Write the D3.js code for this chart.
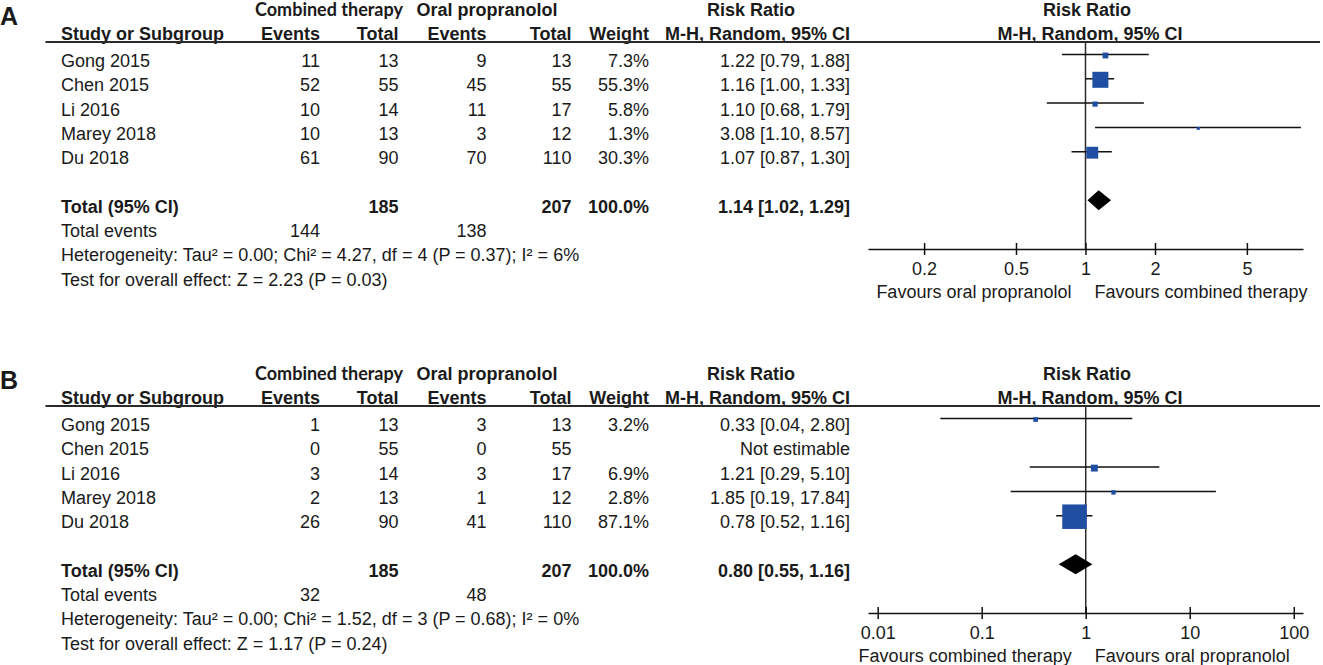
<!DOCTYPE html>
<html>
<head>
<meta charset="utf-8">
<script src="https://cdn.jsdelivr.net/npm/d3@7"></script>
<style>
  body { margin: 0; background: #fff; }
  text { font-family: "Liberation Sans", Arial, sans-serif; fill: #1a1a1a; }
</style>
</head>
<body>
<svg id="chart" width="1323" height="665"></svg>
<script>
"use strict";

// ---- data ----
const studies = ["Gong 2015", "Chen 2015", "Li 2016", "Marey 2018", "Du 2018"];
const combTotal = [13, 55, 14, 13, 90];
const oralTotal = [13, 55, 17, 12, 110];

// panel A: response
const combEventsA = [11, 52, 10, 10, 61];
const oralEventsA = [9, 45, 11, 3, 70];
const weightA = [7.3, 55.3, 5.8, 1.3, 30.3];
const rrA = [1.22, 1.16, 1.10, 3.08, 1.07];
const lowA = [0.79, 1.00, 0.68, 1.10, 0.87];
const highA = [1.88, 1.33, 1.79, 8.57, 1.30];
const pooledA = [1.14, 1.02, 1.29];
const totalEventsA = [144, 138];
const ticksA = [0.2, 0.5, 1, 2, 5];
const domainA = [0.1143, 8.75];
const favoursA = ["Favours oral propranolol", "Favours combined therapy"];
const hetA = "Heterogeneity: Tau² = 0.00; Chi² = 4.27, df = 4 (P = 0.37); I² = 6%";
const testA = "Test for overall effect: Z = 2.23 (P = 0.03)";

// panel B: adverse events
const combEventsB = [1, 0, 3, 2, 26];
const oralEventsB = [3, 0, 3, 1, 41];
const weightB = [3.2, null, 6.9, 2.8, 87.1];
const rrB = [0.33, null, 1.21, 1.85, 0.78];
const lowB = [0.04, null, 0.29, 0.19, 0.52];
const highB = [2.80, null, 5.10, 17.84, 1.16];
const pooledB = [0.80, 0.55, 1.16];
const totalEventsB = [32, 48];
const ticksB = [0.01, 0.1, 1, 10, 100];
const domainB = [0.00807, 122.7];
const favoursB = ["Favours combined therapy", "Favours oral propranolol"];
const hetB = "Heterogeneity: Tau² = 0.00; Chi² = 1.52, df = 3 (P = 0.68); I² = 0%";
const testB = "Test for overall effect: Z = 1.17 (P = 0.24)";

const totalN = [185, 207];

// ---- layout ----
const col = { name: 61, cEv: 320, cTot: 398.5, oEv: 486.5, oTot: 571.5, wt: 649, rr: 850 };
const rowY0 = 67, rowH = 24.3;
const plotLeft = 868, plotRight = 1303;
const lineTop = 42, axisY = 249;
const panelShift = 364;

const svg = d3.select("#chart");
svg.append("rect").attr("width", 1323).attr("height", 665).attr("fill", "#fff");

const fmt2 = d3.format(".2f");
const ciText = (r, l, h) => fmt2(r) + " [" + fmt2(l) + ", " + fmt2(h) + "]";

function drawPanel(letter, shift, p) {
    const g = svg.append("g").attr("transform", "translate(0," + shift + ")");
    const rowBase = (i) => rowY0 + rowH * i;

    g.append("text").attr("x", 0).attr("y", 25)
        .style("font-size", "25px").style("font-weight", "bold").text(letter);

    // header
    g.append("text").attr("x", 329).attr("y", 15.5).attr("text-anchor", "middle")
        .style("font-family", "Lato, 'Open Sans', sans-serif")
        .style("font-size", "18px").style("font-weight", "bold").text("Combined therapy");
    const head1 = [[557.5, "Oral propranolol", "end"], [751, "Risk Ratio", "middle"], [1087, "Risk Ratio", "middle"]];
    g.selectAll(".h1").data(head1).enter().append("text")
        .attr("x", d => d[0]).attr("y", 15.5).attr("text-anchor", d => d[2])
        .style("font-size", "18px").style("font-weight", "bold").text(d => d[1]);
    const head2 = [[col.name, "Study or Subgroup", "start"], [col.cEv, "Events", "end"], [col.cTot, "Total", "end"],
        [col.oEv, "Events", "end"], [col.oTot, "Total", "end"], [col.wt, "Weight", "end"],
        [col.rr, "M-H, Random, 95% CI", "end"], [1090, "M-H, Random, 95% CI", "middle"]];
    g.selectAll(".h2").data(head2).enter().append("text")
        .attr("x", d => d[0]).attr("y", 40).attr("text-anchor", d => d[2])
        .style("font-size", "18px").style("font-weight", "bold").text(d => d[1]);
    g.append("line").attr("x1", 45.5).attr("x2", 1320).attr("y1", lineTop).attr("y2", lineTop)
        .attr("stroke", "#2a2a2a").attr("stroke-width", 2);

    // study rows
    const rows = studies.map((s, i) => ({
        name: s, ce: p.ce[i], ct: combTotal[i], oe: p.oe[i], ot: oralTotal[i],
        w: p.w[i], rr: p.rr[i], lo: p.lo[i], hi: p.hi[i], idx: i
    }));
    const cells = [];
    rows.forEach(r => {
        const y = rowBase(r.idx);
        cells.push([col.name, y, r.name, "start"]);
        cells.push([col.cEv, y, r.ce, "end"]);
        cells.push([col.cTot, y, r.ct, "end"]);
        cells.push([col.oEv, y, r.oe, "end"]);
        cells.push([col.oTot, y, r.ot, "end"]);
        cells.push([col.wt, y, r.w == null ? "" : d3.format(".1f")(r.w) + "%", "end"]);
        cells.push([col.rr, y, r.rr == null ? "Not estimable" : ciText(r.rr, r.lo, r.hi), "end"]);
    });
    cells.push([col.name, rowBase(7), "Total events", "start"]);
    cells.push([col.cEv, rowBase(7), p.events[0], "end"]);
    cells.push([col.oEv, rowBase(7), p.events[1], "end"]);
    cells.push([col.name, rowBase(8), p.het, "start"]);
    cells.push([col.name, rowBase(9), p.test, "start"]);
    g.selectAll(".cell").data(cells).enter().append("text")
        .attr("x", d => d[0]).attr("y", d => d[1]).attr("text-anchor", d => d[3])
        .style("font-size", "18px").text(d => d[2]);

    const totals = [[col.name, "Total (95% CI)", "start"], [col.cTot, totalN[0], "end"], [col.oTot, totalN[1], "end"],
        [col.wt, "100.0%", "end"], [col.rr, ciText(p.pooled[0], p.pooled[1], p.pooled[2]), "end"]];
    g.selectAll(".tot").data(totals).enter().append("text")
        .attr("x", d => d[0]).attr("y", rowBase(6)).attr("text-anchor", d => d[2])
        .style("font-size", "18px").style("font-weight", "bold").text(d => d[1]);

    // forest plot
    const x = d3.scaleLog().domain(p.domain).range([plotLeft, plotRight]);
    const size = d3.scaleSqrt().domain([0, d3.max(p.w)]).range([0, p.maxBox]);
    const markY = (i) => rowBase(i) - 12.5;

    g.append("line").attr("x1", x(1)).attr("x2", x(1)).attr("y1", lineTop).attr("y2", axisY)
        .attr("stroke", "#2a2a2a").attr("stroke-width", 1.5);

    const est = rows.filter(r => r.rr != null);
    g.selectAll(".ci").data(est).enter().append("line")
        .attr("x1", d => x(d.lo)).attr("x2", d => x(d.hi))
        .attr("y1", d => markY(d.idx)).attr("y2", d => markY(d.idx))
        .attr("stroke", "#111").attr("stroke-width", 1.5);
    g.selectAll(".box").data(est).enter().append("rect")
        .each(function(d) {
            const s = Math.max(3, size(d.w));
            d3.select(this)
                .attr("x", x(d.rr) - s / 2).attr("y", markY(d.idx) - s / 2 + 1)
                .attr("width", s).attr("height", s);
        })
        .attr("fill", "#1f4ea3");

    const dy = markY(6);
    const dia = [[x(p.pooled[1]), dy], [x(p.pooled[0]), dy - 10], [x(p.pooled[2]), dy], [x(p.pooled[0]), dy + 10]];
    g.append("path").attr("d", d3.line()(dia) + "Z").attr("fill", "#000");

    const axis = g.append("g").attr("transform", "translate(0," + axisY + ")")
        .call(d3.axisBottom(x).tickValues(p.ticks).tickFormat(d3.format("")).tickSizeOuter(0).tickSizeInner(6));
    axis.select(".domain").attr("stroke", "#111").attr("stroke-width", 1.5);
    axis.selectAll(".tick line").attr("y1", -6).attr("y2", 6).attr("stroke", "#111").attr("stroke-width", 1.5);
    axis.selectAll(".tick text").attr("y", 26).attr("dy", 0)
        .style("font-size", "18px").style("font-family", "'Liberation Sans', Arial, sans-serif").attr("fill", "#1a1a1a");

    g.append("text").attr("x", x(1) - 14).attr("y", 298).attr("text-anchor", "end")
        .style("font-size", "18px").text(p.favours[0]);
    g.append("text").attr("x", x(1) + 9).attr("y", 298).attr("text-anchor", "start")
        .style("font-size", "18px").text(p.favours[1]);
}

drawPanel("A", 0, {
    ce: combEventsA, oe: oralEventsA, w: weightA, rr: rrA, lo: lowA, hi: highA,
    pooled: pooledA, events: totalEventsA, ticks: ticksA, domain: domainA,
    favours: favoursA, het: hetA, test: testA, maxBox: 16
});
drawPanel("B", panelShift, {
    ce: combEventsB, oe: oralEventsB, w: weightB, rr: rrB, lo: lowB, hi: highB,
    pooled: pooledB, events: totalEventsB, ticks: ticksB, domain: domainB,
    favours: favoursB, het: hetB, test: testB, maxBox: 24.5
});
</script>
</body>
</html>
